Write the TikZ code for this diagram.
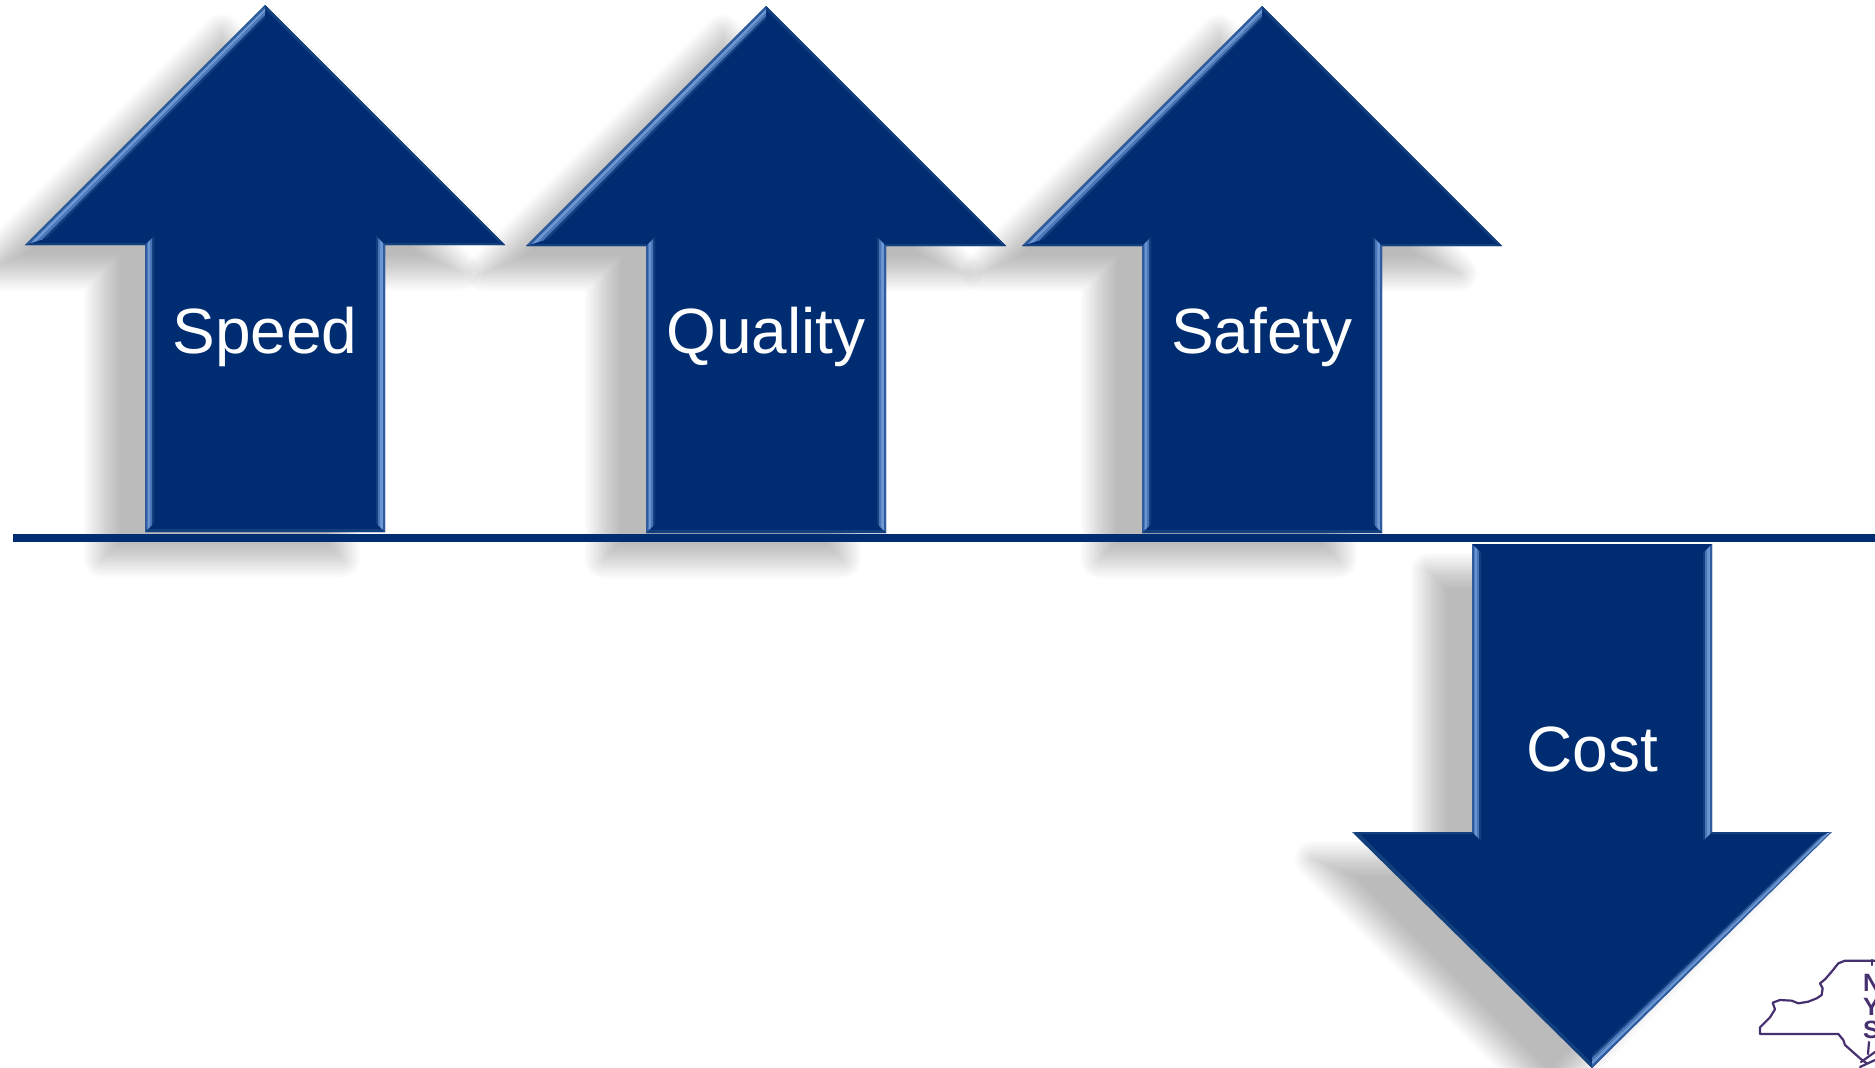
\documentclass[tikz,border=0pt]{standalone}
\usepackage{fontspec}
\setmainfont{Liberation Sans}
\usetikzlibrary{calc}
\definecolor{navy}{HTML}{002D72}
\definecolor{shadowgray}{HTML}{BBBBBB}
\definecolor{bevA}{HTML}{2F5C9F}
\definecolor{bevB}{HTML}{6D97D3}
\definecolor{bevC}{HTML}{4A76B8}
\definecolor{bevD}{HTML}{12407F}
\definecolor{logopurple}{HTML}{46306F}
\tikzset{
  x=1pt,y=-1pt,
  arrowlabel/.style={text=white,anchor=base,inner sep=0pt,font=\fontsize{64}{70}\selectfont},
  logoletter/.style={text=logopurple,anchor=base west,inner sep=0pt,font=\bfseries\fontsize{25}{28}\selectfont},
  logoline/.style={draw=logopurple,line width=2.2pt,line join=round,line cap=round},
}
% arrow: #1 cx, #2 tip y, #3 direction (+1 tip on top, -1 tip at bottom),
% #4 head height, #5 total length, #6 inset, #7 paint options
\newcommand{\arrowfill}[7]{
  \pgfmathsetmacro{\xa}{#4-2.414*(#6)}
  \pgfmathsetmacro{\xb}{120-(#6)}
  \pgfmathsetmacro{\ya}{#2+(#3)*1.414*(#6)}
  \pgfmathsetmacro{\yb}{#2+(#3)*(#4-(#6))}
  \pgfmathsetmacro{\yc}{#2+(#3)*(#5-(#6))}
  \pgfmathsetmacro{\xL}{#1-\xa}
  \pgfmathsetmacro{\xR}{#1+\xa}
  \pgfmathsetmacro{\xl}{#1-\xb}
  \pgfmathsetmacro{\xr}{#1+\xb}
  \path[#7] (#1,\ya) -- (\xR,\yb) -- (\xr,\yb) -- (\xr,\yc)
  -- (\xl,\yc) -- (\xl,\yb) -- (\xL,\yb) -- cycle;
}
% blurred shadow: outer layers are strokes with round joins, inner layers insets
\newcommand{\softshadow}[5]{
  \pgfmathsetmacro{\sx}{#1-43}
  \pgfmathsetmacro{\sy}{#2+27}
  \foreach \i in {1,...,19}{
    \pgfmathsetmacro{\ins}{-18+2*(\i-1)}
    \pgfmathsetmacro{\al}{1/(20-\i)}
    \ifdim\ins pt<0pt
      \pgfmathsetmacro{\lw}{-2*\ins}
      \begin{scope}[transparency group,opacity=\al]
      \arrowfill{\sx}{\sy}{#3}{#4}{#5}{0}{fill=shadowgray,draw=shadowgray,line width=\lw pt,line join=round}
      \end{scope}
    \else
      \arrowfill{\sx}{\sy}{#3}{#4}{#5}{\ins}{fill=shadowgray,opacity=\al}
    \fi
  }
}
% bevel strip: outer a,b inner c,d (a-d and b-c facing)
\newcommand{\bevelq}[4]{
  \foreach \s/\e/\c in {0/.25/bevA,.25/.55/bevB,.55/.8/bevC,.8/1/bevD}{
    \fill[\c] ($#1!\s!#4$) -- ($#2!\s!#3$) -- ($#2!\e!#3$) -- ($#1!\e!#4$) -- cycle;
  }
}
% up arrow #1 cx, #2 tip y
\newcommand{\uparrowshape}[2]{
  \arrowfill{#1}{#2}{1}{240}{527}{0}{fill=navy}
  \coordinate (T) at (#1,#2);
  \coordinate (Ti) at (#1,#2+13);
  \coordinate (L) at (#1-240,#2+240);
  \coordinate (Li) at (#1-218,#2+233);
  \coordinate (HL) at (#1-120,#2+240);
  \coordinate (HLi) at (#1-111,#2+231);
  \coordinate (BL) at (#1-120,#2+527);
  \coordinate (BLi) at (#1-111,#2+518);
  \coordinate (BR) at (#1+120,#2+527);
  \coordinate (BRi) at (#1+111,#2+518);
  \coordinate (HR) at (#1+120,#2+240);
  \coordinate (HRi) at (#1+111,#2+231);
  \coordinate (R) at (#1+240,#2+240);
  \bevelq{(L)}{(T)}{(Ti)}{(Li)}
  \bevelq{(HL)}{(BL)}{(BLi)}{(HLi)}
  \bevelq{(HR)}{(BR)}{(BRi)}{(HRi)}
  \fill[bevD] (BL) -- (BR) -- ($(BR)+(-3,-3)$) -- ($(BL)+(3,-3)$) -- cycle;
  \fill[bevD] (T) -- (R) -- ($(R)+(-5,-2)$) -- ($(T)+(0,4)$) -- cycle;
  \fill[bevD] (L) -- (HL) -- ($(HL)+(1,-2)$) -- ($(L)+(8,-2)$) -- cycle;
  \fill[bevD] (R) -- (HR) -- ($(HR)+(-1,-2)$) -- ($(R)+(-8,-2)$) -- cycle;
}
\begin{document}
\begin{tikzpicture}
\useasboundingbox (0,0) rectangle (1875,1068);
\fill[white] (0,0) rectangle (1875,1068);

% shadows
\softshadow{265}{5}{1}{240}{527}
\softshadow{766}{6}{1}{240}{527}
\softshadow{1262}{6}{1}{240}{527}
\softshadow{1592}{1068}{-1}{236}{524}

% up arrows
\uparrowshape{265}{5}
\uparrowshape{766}{6}
\uparrowshape{1262}{6}

% down arrow
\arrowfill{1592}{1068}{-1}{236}{524}{0}{fill=navy}
\coordinate (dT) at (1592,1068);
\coordinate (dTi) at (1592,1055);
\coordinate (dR) at (1832,832);
\coordinate (dRi) at (1819,837);
\coordinate (dSL) at (1472,832);
\coordinate (dSLi) at (1481,841);
\coordinate (dTL) at (1472,544);
\coordinate (dTLi) at (1481,553);
\coordinate (dSR) at (1712,832);
\coordinate (dSRi) at (1703,841);
\coordinate (dTR) at (1712,544);
\coordinate (dTRi) at (1703,553);
\bevelq{(dR)}{(dT)}{(dTi)}{(dRi)}
\bevelq{(dSL)}{(dTL)}{(dTLi)}{(dSLi)}
\bevelq{(dSR)}{(dTR)}{(dTRi)}{(dSRi)}
\fill[bevD] (dT) -- (1352,832) -- (1360,834) -- (1592,1063) -- cycle;
\fill[bevD] (1352,832) -- (dSL) -- (1473,834) -- (1360,834) -- cycle;
\fill[bevD] (dR) -- (dSR) -- (1711,834) -- (1824,834) -- cycle;

% base line
\coordinate (lineL) at (13,538);
\coordinate (lineR) at (1875,538);
\draw[navy,line width=8pt] (lineL) -- (lineR);

% labels
\node[arrowlabel] (speed) at (265,353) {Speed};
\node[arrowlabel] (quality) at (766,353) {Quality};
\node[arrowlabel] (safety) at (1262,353) {Safety};
\node[arrowlabel] (cost) at (1592,771) {Cost};

% logo
\draw[logoline,shift={(1720,930)},x=0.3333pt,y=-0.3333pt]
  (470,92) -- (375,92) -- (355,100) -- (335,125) -- (315,148) -- (300,160) -- (308,175)
  -- (305,195) -- (290,205) -- (265,215) -- (235,220) -- (215,212) -- (180,210) -- (158,218)
  -- (165,238) -- (150,262) -- (120,292) -- (120,312) -- (355,312) -- (370,330) -- (375,345)
  -- (420,385) -- (440,400);
\draw[logoline] (1872,960) -- (1872,965);
\draw[logoline] (1869,1042) -- (1868,1054);
\draw[logoline] (1861,1062) -- (1875,1052);
\draw[logoline] (1860,1067) -- (1875,1060);
\node[logoletter] (logoN) at (1863,991) {N};
\node[logoletter] (logoY) at (1863,1015) {Y};
\node[logoletter] (logoS) at (1863,1038) {S};
\end{tikzpicture}
\end{document}
